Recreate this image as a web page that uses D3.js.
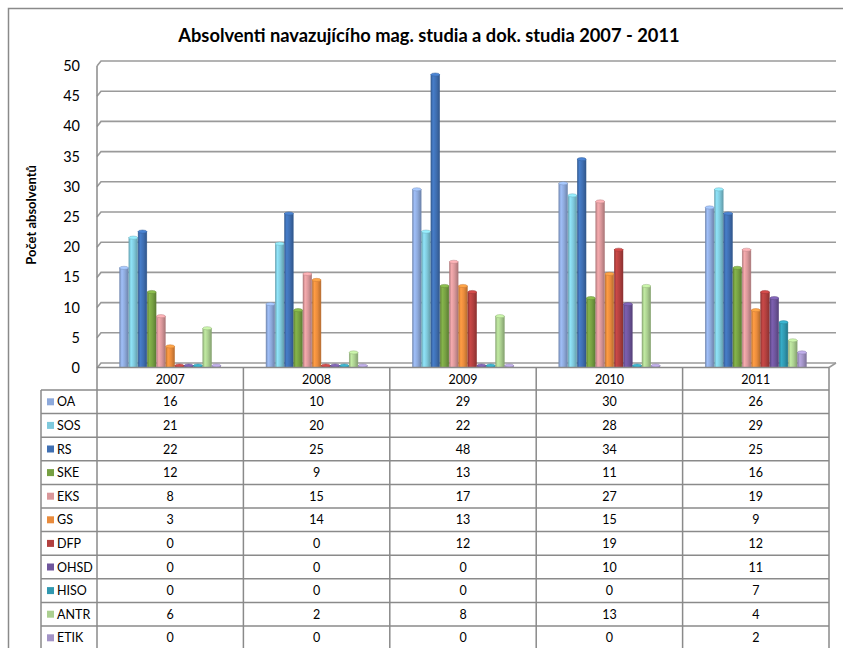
<!DOCTYPE html>
<html>
<head>
<meta charset="utf-8">
<script src="https://cdn.jsdelivr.net/npm/d3@7"></script>
<style>
  html, body { margin: 0; padding: 0; background: #fff; }
  svg { display: block; }
  text { font-family: Lato, "Open Sans", sans-serif; fill: #000; }
</style>
</head>
<body>
<svg id="chart" width="843" height="648"></svg>
<script>
const years = ["2007", "2008", "2009", "2010", "2011"];
const seriesNames = ["OA", "SOS", "RS", "SKE", "EKS", "GS", "DFP", "OHSD", "HISO", "ANTR", "ETIK"];
const OA   = [16, 10, 29, 30, 26];
const SOS  = [21, 20, 22, 28, 29];
const RS   = [22, 25, 48, 34, 25];
const SKE  = [12, 9, 13, 11, 16];
const EKS  = [8, 15, 17, 27, 19];
const GS   = [3, 14, 13, 15, 9];
const DFP  = [0, 0, 12, 19, 12];
const OHSD = [0, 0, 0, 10, 11];
const HISO = [0, 0, 0, 0, 7];
const ANTR = [6, 2, 8, 13, 4];
const ETIK = [0, 0, 0, 0, 2];
const seriesValues = [OA, SOS, RS, SKE, EKS, GS, DFP, OHSD, HISO, ANTR, ETIK];
const seriesColors = ["#8DA9DB", "#7FC9DC", "#3F6FB2", "#76A042", "#D9979A", "#E98B3C",
                      "#B2403F", "#6E559C", "#3098B0", "#ABCF90", "#A293C6"];
const yTicks = [0, 5, 10, 15, 20, 25, 30, 35, 40, 45, 50];
const title = "Absolventi navazujícího mag. studia a dok. studia 2007 - 2011";
const yTitle = "Počet absolventů";

const svg = d3.select("#chart");
const defs = svg.append("defs");

// layout
const left = 97, right = 829, depthX = 4, depthY = 5;
const floorFront = 367.5;
const x = d3.scaleBand().domain(years).range([left, right]).paddingInner(0).paddingOuter(0);
const xs = d3.scaleBand().domain(seriesNames).range([0, x.bandwidth()]).paddingOuter(2.45).paddingInner(0.06);
const yBack = d3.scaleLinear().domain([0, 50]).range([363, 61]);
const yFront = v => yBack(v) + depthY;

// outer frame
svg.append("rect").attr("x", 8.5).attr("y", 8.5).attr("width", 900).attr("height", 800)
  .attr("fill", "none").attr("stroke", "#8a8a8a").attr("stroke-width", 1.5);

// title
svg.append("text").attr("x", 429).attr("y", 42).attr("text-anchor", "middle")
  .style("font-size", "18.3px").style("font-weight", "bold").text(title);

// y axis title
svg.append("text").attr("transform", "translate(35.5,215) rotate(-90)").attr("text-anchor", "middle")
  .style("font-size", "13px").style("font-weight", "bold").text(yTitle);

// gridlines (3D wall)
const grid = svg.append("g");
yTicks.forEach(t => {
  grid.append("path")
    .attr("d", `M${left},${yFront(t)}L${left + depthX},${yBack(t)}L${right + 7},${yBack(t)}`)
    .attr("fill", "none").attr("stroke", "#9a9a9a").attr("stroke-width", 1.6);
});
// side wall front edge
grid.append("line").attr("x1", left).attr("x2", left).attr("y1", yFront(50)).attr("y2", 648)
  .attr("stroke", "#8a8a8a").attr("stroke-width", 1.5);
// floor right edge
grid.append("line").attr("x1", right + 7).attr("y1", yBack(0)).attr("x2", right).attr("y2", floorFront)
  .attr("stroke", "#9a9a9a").attr("stroke-width", 1.5);

// y tick labels
svg.append("g").selectAll("text").data(yTicks).join("text")
  .attr("x", 80).attr("y", d => yFront(d)).attr("dy", "0.35em").attr("text-anchor", "end")
  .style("font-size", "14.5px").text(d => d);

// gradients
seriesColors.forEach((c, i) => {
  const g = defs.append("linearGradient").attr("id", "g" + i).attr("x1", 0).attr("x2", 1).attr("y1", 0).attr("y2", 0);
  const base = d3.color(c);
  g.append("stop").attr("offset", "0%").attr("stop-color", base.darker(0.5));
  g.append("stop").attr("offset", "25%").attr("stop-color", base.brighter(0.35));
  g.append("stop").attr("offset", "60%").attr("stop-color", base);
  g.append("stop").attr("offset", "100%").attr("stop-color", base.darker(0.7));
});

// bars
const bars = svg.append("g");
const bw = xs.bandwidth();
years.forEach((yr, yi) => {
  seriesNames.forEach((s, si) => {
    const v = seriesValues[si][yi];
    const bx = x(yr) + xs(s);
    const col = d3.color(seriesColors[si]);
    const top = v > 0 ? yBack(v) + 1.5 : floorFront - 2;
    bars.append("rect").attr("x", bx).attr("y", top).attr("width", bw).attr("height", floorFront - top)
      .attr("fill", `url(#g${si})`).attr("stroke", col.darker(0.6)).attr("stroke-width", 0.5);
    bars.append("ellipse").attr("cx", bx + bw / 2).attr("cy", top).attr("rx", bw / 2).attr("ry", 1.6)
      .attr("fill", col.brighter(0.5)).attr("stroke", col.darker(0.4)).attr("stroke-width", 0.5);
  });
});

// data table
const rowTop = 390, rowH = 23.6, legL = 41;
const tbl = svg.append("g");
const lineStyle = sel => sel.attr("stroke", "#8a8a8a").attr("stroke-width", 1.5);
// floor front / header top
lineStyle(tbl.append("line").attr("x1", left).attr("x2", right).attr("y1", floorFront).attr("y2", floorFront));
// horizontal rows
for (let i = 0; i <= seriesNames.length; i++) {
  const yy = rowTop + i * rowH;
  lineStyle(tbl.append("line").attr("x1", legL).attr("x2", right).attr("y1", yy).attr("y2", yy));
}
// vertical lines
lineStyle(tbl.append("line").attr("x1", legL).attr("x2", legL).attr("y1", rowTop).attr("y2", 660));
years.forEach(yr => {
  const xe = x(yr) + x.bandwidth();
  lineStyle(tbl.append("line").attr("x1", xe).attr("x2", xe).attr("y1", floorFront).attr("y2", 660));
});
// header years
tbl.selectAll("text.yr").data(years).join("text").attr("class", "yr")
  .attr("x", d => x(d) + x.bandwidth() / 2).attr("y", (floorFront + rowTop) / 2 + 1).attr("dy", "0.35em")
  .attr("text-anchor", "middle").style("font-size", "12.5px").text(d => d);
// rows
seriesNames.forEach((s, si) => {
  const cy = rowTop + si * rowH + rowH / 2;
  tbl.append("rect").attr("x", 47).attr("y", cy - 3.5).attr("width", 7).attr("height", 7).attr("fill", seriesColors[si]);
  tbl.append("text").attr("x", 57).attr("y", cy).attr("dy", "0.36em").style("font-size", "12.5px").text(s);
  years.forEach((yr, yi) => {
    tbl.append("text").attr("x", x(yr) + x.bandwidth() / 2).attr("y", cy).attr("dy", "0.36em")
      .attr("text-anchor", "middle").style("font-size", "12.5px").text(seriesValues[si][yi]);
  });
});
</script>
</body>
</html>
